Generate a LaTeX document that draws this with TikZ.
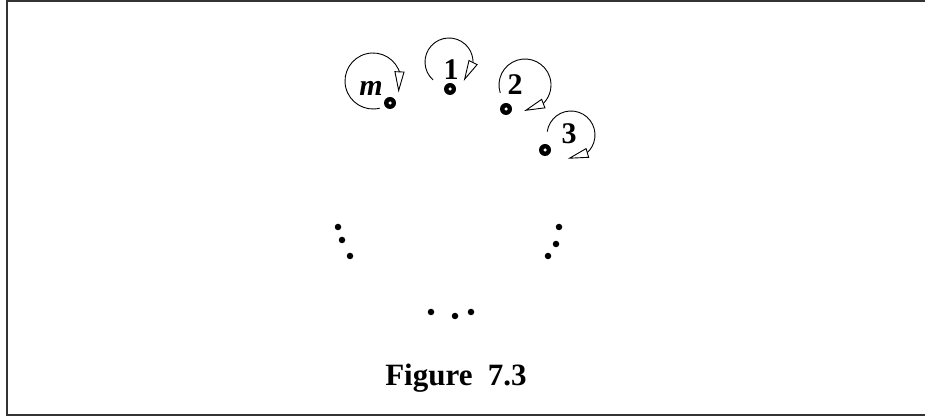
\documentclass[tikz,border=0pt]{standalone}
\usepackage{fontspec}
\setmainfont{Liberation Serif}
\usetikzlibrary{arrows.meta,bending}

\tikzset{
  site/.style={circle, fill=black, inner sep=0pt, minimum size=12pt},
  hole/.style={circle, fill=white, inner sep=0pt, minimum size=3.5pt},
  etc/.style={circle, fill=black, inner sep=0pt, minimum size=6.5pt},
  lbl/.style={font=\fontsize{30}{34}\selectfont\bfseries, inner sep=0pt},
  spin/.style={line width=0.9pt, -{Triangle[open, fill=white, length=21pt, width=10pt, flex]}},
}

\begin{document}
\begin{tikzpicture}[x=1pt, y=1pt]
  \useasboundingbox (0,0) rectangle (925,417);
  % frame (right side runs off the page)
  \draw[line width=1.6pt, black!80] (7,2) rectangle (940,416);

  % --- sites ---
  \node[site] (sm) at (390,314) {};
  \node[site] (s1) at (450,328) {};
  \node[site] (s2) at (506,308) {};
  \node[site] (s3) at (545,267) {};
  \foreach \s in {sm,s1,s2,s3}
    \node[hole] at (\s) {};

  % --- labels ---
  \node[lbl] (lm) at (371,329) {\itshape m};
  \node[lbl] (l1) at (451,347) {1};
  \node[lbl] (l2) at (515,332) {2};
  \node[lbl] (l3) at (569,283) {3};

  % --- spin arrows ---
  \coordinate (cm) at (373,336);
  \coordinate (c1) at (449,355);
  \coordinate (c2) at (525,332);
  \coordinate (c3) at (571,282);
  \draw[spin] ([shift={(284:28pt)}]cm) arc[start angle=284, end angle=-24, radius=28pt];
  \draw[spin] ([shift={(228:24pt)}]c1) arc[start angle=228, end angle=-52, radius=24pt];
  \draw[spin] ([shift={(198:26pt)}]c2) arc[start angle=198, end angle=-92, radius=26pt];
  \draw[spin] ([shift={(172:24pt)}]c3) arc[start angle=172, end angle=-98, radius=24pt];

  % --- dots ---
  \node[etc] (a1) at (338,190) {};
  \node[etc] (a2) at (342,177) {};
  \node[etc] (a3) at (350,161) {};
  \node[etc] (b1) at (559,190) {};
  \node[etc] (b2) at (556,173) {};
  \node[etc] (b3) at (548,161) {};
  \node[etc] (d1) at (431,105) {};
  \node[etc] (d2) at (455,101) {};
  \node[etc] (d3) at (471,105) {};

  % caption
  \node[lbl, font=\fontsize{31}{34}\selectfont\bfseries, anchor=base] (cap) at (456,31) {Figure\ \ 7.3};
\end{tikzpicture}
\end{document}
